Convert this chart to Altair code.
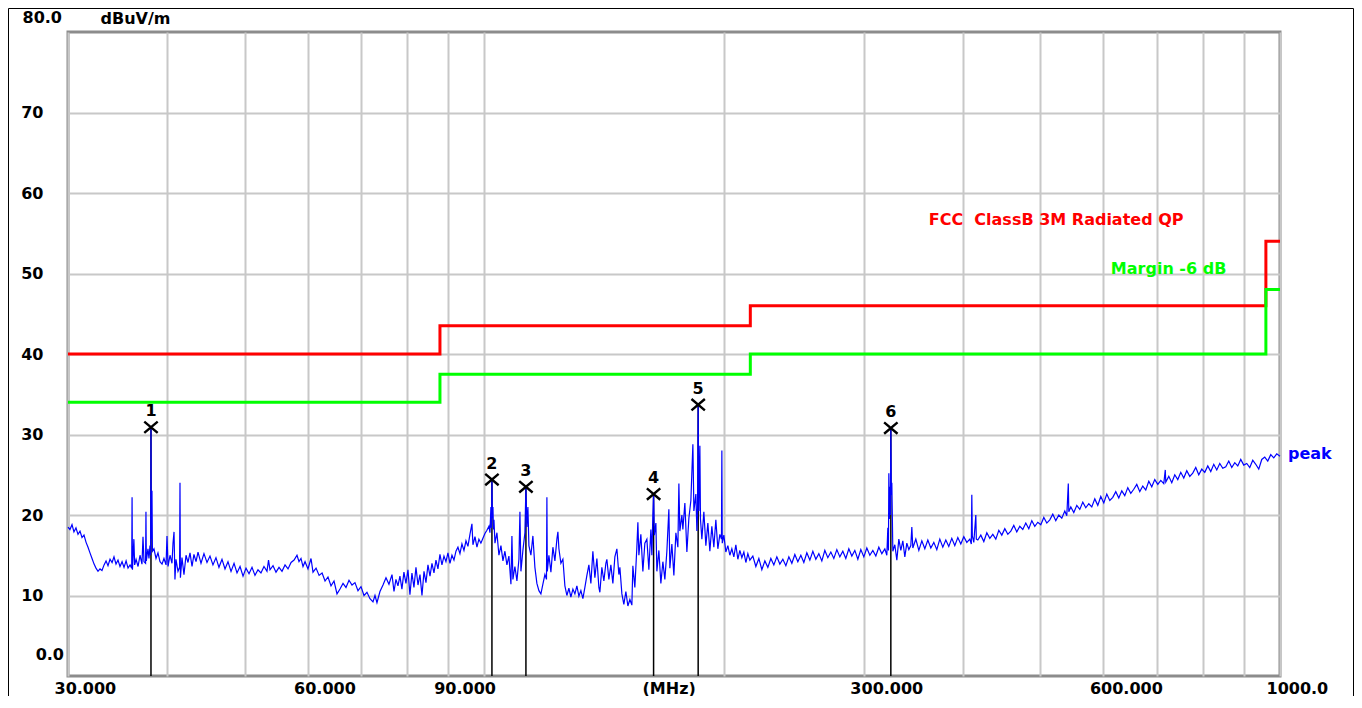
import altair as alt
import pandas as pd

# ---------------- data ----------------
# peak trace, 30 - 88 MHz
mhz_low = [30.00, 30.17, 30.35, 30.52, 30.70, 30.88, 31.06, 31.24, 31.42, 31.61,
           31.79, 31.97, 32.16, 32.35, 32.53, 32.72, 32.91, 33.10, 33.30, 33.49,
           33.68, 33.88, 34.08, 34.27, 34.47, 34.67, 34.87, 35.08, 35.28, 35.49,
           35.69, 35.90,
           36.07, 36.11, 36.15, 36.30, 36.38,
           36.53, 36.74, 36.95, 37.16, 37.27, 37.38, 37.55, 37.59, 37.63,
           37.81, 37.92, 38.03, 38.10, 38.14, 38.18, 38.25, 38.30,
           38.47, 38.70, 38.92, 39.15, 39.38, 39.60, 39.84, 39.95, 40.07,
           40.30, 40.53, 40.65, 40.77, 40.88, 41.00, 41.24, 41.43, 41.48, 41.53,
           41.72, 41.96, 42.21, 42.45, 42.70, 42.95, 43.19, 43.45, 43.70,
           44.08, 44.46, 44.85, 45.24, 45.63, 46.03, 46.43, 46.84, 47.25, 47.66,
           48.08, 48.50, 48.92, 49.35, 49.78, 50.21, 50.65, 51.09, 51.53, 51.98,
           52.43, 52.89, 53.35, 53.59, 53.82, 54.29, 54.76, 55.24, 55.72, 56.21,
           56.70, 57.20, 57.70, 58.19, 58.53, 58.87, 59.21, 59.56, 60.07, 60.60,
           60.95,
           61.49, 62.03, 62.57, 63.11, 63.65, 64.21, 64.77, 65.33, 65.90, 66.48,
           67.05, 67.64, 68.23, 68.82, 69.42, 70.03, 70.64, 71.25, 71.87, 72.50,
           72.92, 73.34, 73.98, 74.63, 75.28, 75.93, 76.60, 77.04, 77.48, 77.93,
           78.38, 78.83, 79.29, 79.75, 80.22, 80.68, 81.15, 81.62, 82.10, 82.58,
           83.06, 83.54, 84.03, 84.51, 85.00, 85.50, 85.99, 86.49, 86.99, 87.49]
dbuv_low = [18.5, 18.2, 18.8, 17.9, 18.4, 17.6, 18.0, 17.2, 17.5, 16.6,
            16.0, 15.3, 14.6, 13.9, 13.4, 13.0, 13.3, 13.1, 13.8, 14.3,
            13.7, 14.5, 14.1, 14.8, 13.9, 14.4, 13.6, 14.2, 13.5, 14.3,
            13.4, 13.8,
            13.4, 22.2, 13.2, 17.0, 13.8,
            14.5, 13.6, 15.0, 13.9, 17.3, 14.2, 14.0, 20.4, 14.3,
            15.8, 14.6, 16.2, 15.0, 30.9, 17.0, 23.0, 15.5,
            15.8, 14.6, 15.3, 14.2, 13.9, 14.6, 13.8, 17.4, 13.6,
            15.0, 14.0, 16.5, 17.9, 12.0, 14.5, 13.0, 13.5, 24.0, 12.2,
            14.7, 12.6, 15.0, 14.1, 15.3, 13.6, 15.1, 14.2, 15.4,
            14.0, 15.2, 14.1, 14.9, 13.8, 14.7, 13.5, 14.5, 13.3, 14.2,
            13.0, 14.0, 12.8, 13.6, 12.4, 13.4, 12.7, 13.5, 12.5, 13.2,
            12.8, 13.6, 13.0, 14.4, 13.2, 13.7, 12.9, 13.5, 13.0, 13.8,
            13.3, 14.1, 14.4, 15.0, 14.2, 14.6, 13.6, 14.2, 13.3, 14.6,
            12.9,
            13.4, 12.5, 12.8, 11.8, 12.3, 11.2, 11.8, 10.2, 10.8, 11.5,
            11.0, 11.9, 11.3, 11.6, 10.6, 11.1, 10.0, 10.4, 9.6, 9.2,
            10.0, 9.1, 10.5, 11.3, 12.2, 11.4, 12.6, 10.5, 12.0, 11.2,
            12.4, 10.8, 12.9, 11.5, 13.2, 10.1, 12.8, 11.0, 13.5, 11.3,
            12.6, 10.0, 13.0, 11.6, 13.8, 12.4, 14.0, 12.8, 14.4, 13.3]

# peak trace, 88 - 216 MHz
mhz_mid = [88.00, 88.51, 89.03, 89.54, 90.06, 90.58, 91.11, 91.64, 92.17, 92.70,
           93.24, 93.78, 94.33, 94.88, 95.42, 95.98, 96.53,
           96.81, 97.38, 97.94, 98.50, 99.07, 99.65, 100.23, 100.81, 101.40, 101.69,
           101.98, 102.13, 102.28, 102.43, 102.58, 102.73, 102.88,
           103.18, 103.77, 104.37, 104.98, 105.59, 106.20, 106.81, 107.43,
           108.06, 108.37, 108.68, 109.31, 109.95, 110.59, 110.91, 111.23, 111.87,
           112.52, 112.85, 113.17, 113.50, 113.83,
           114.49, 115.15, 115.82, 116.49, 117.17, 117.85, 118.53, 119.22,
           119.77, 119.91, 120.05,
           120.61, 121.31, 122.01, 122.72, 123.43, 123.79, 124.15, 124.87, 125.59,
           126.32, 127.05, 127.79, 128.53, 129.28, 130.03, 130.78, 131.54, 132.30, 133.07,
           133.84, 134.62, 135.40, 136.18, 136.97, 137.77, 138.57, 139.37, 139.77,
           140.58, 141.40, 142.22, 142.63, 143.46, 144.29, 145.13, 145.97, 146.82, 147.67, 148.10,
           148.96, 149.82, 150.69, 151.57, 152.45, 153.33,
           153.77, 154.66, 155.56, 156.02, 156.47, 157.37, 158.29, 159.20, 160.13, 161.06,
           161.99, 162.46, 162.93, 163.27, 163.65, 164.36, 164.83,
           165.79, 166.75, 167.72, 168.69, 169.67, 170.65, 171.15, 172.14, 173.14, 174.15,
           175.16, 175.67, 176.17,
           177.20, 177.71, 178.74, 179.78, 180.82, 181.87, 182.93, 183.46, 184.52, 185.06,
           185.38, 185.75, 186.13, 186.67, 186.99,
           187.75, 188.83, 189.93, 191.03, 192.14, 193.25, 194.37, 195.50, 196.64, 197.78,
           198.70, 198.93, 199.16,
           200.08, 201.24, 202.41, 203.58, 204.76, 205.95, 207.15, 208.35, 209.56, 210.77,
           212.00, 213.23, 214.47, 215.71]
dbuv_mid = [15.1, 13.8, 14.9, 14.2, 15.3, 14.0, 15.0, 14.4, 15.5, 16.0,
            15.2, 16.4, 15.6, 16.8, 16.1, 17.6, 18.9,
            16.3, 17.3, 16.0, 17.0, 16.5, 17.1, 17.7, 18.1, 18.6, 17.8,
            21.0, 18.4, 24.4, 19.6, 21.0, 18.2, 19.4,
            16.5, 17.8, 15.0, 16.2, 14.3, 15.5, 13.8, 14.9,
            11.4, 17.4, 12.0, 13.6, 11.8, 14.5, 20.4, 13.0, 15.6,
            17.8, 23.5, 18.5, 21.0, 16.2,
            15.0, 17.4, 13.5, 11.5, 10.6, 10.2, 11.4, 12.6,
            12.0, 22.2, 13.0,
            15.0, 12.9, 16.0, 14.3, 17.0, 17.9, 15.8, 14.0, 14.5,
            11.2, 10.0, 10.9, 9.8, 10.8, 10.2, 11.2, 9.9, 10.6, 9.6,
            11.0, 12.5, 13.8, 11.5, 15.5, 12.2, 14.6, 11.0, 10.4,
            13.5, 11.8, 14.0, 14.5, 12.0, 13.8, 11.5, 14.8, 15.8, 12.6, 13.5,
            10.2, 8.9, 10.5, 8.7, 9.5, 8.8,
            13.7, 11.0, 16.0, 19.1, 15.0, 17.6, 13.0, 16.5, 17.0, 13.2,
            18.2, 15.0, 20.0, 22.6, 17.5, 19.0, 13.0,
            15.6, 11.5, 14.2, 12.0, 15.5, 20.7, 13.4, 16.4, 12.5, 17.8,
            16.0, 23.9, 18.0,
            20.0, 18.2, 21.5, 15.4, 19.6, 21.8, 28.8, 20.5, 22.6, 18.0,
            20.0, 33.7, 20.5, 28.6, 19.5,
            17.0, 20.4, 16.2, 19.0, 15.5, 18.6, 16.0, 19.4, 15.8, 17.6,
            17.0, 28.0, 16.5,
            17.5, 15.4, 16.2, 15.0, 15.8, 14.8, 16.3, 14.5, 15.6, 14.7,
            15.4, 14.1, 15.2, 14.4]

# peak trace, 216 - 1000 MHz
mhz_high = [217.58, 219.49, 221.40, 223.33, 225.28, 227.24, 229.22, 231.21, 233.23, 235.27,
            237.32, 239.39, 241.48, 243.58, 245.70, 247.84, 250.00, 252.18, 254.38, 256.60,
            258.83, 261.09, 263.37, 265.66, 267.97, 270.31, 272.66, 275.04, 277.44, 279.86,
            282.29, 284.75, 287.24, 289.74, 292.26, 294.82, 297.38, 299.97, 302.59, 305.23,
            307.89, 310.57, 313.28, 316.01, 318.76, 320.62,
            321.55, 322.11, 322.48, 322.95, 323.42, 323.88, 324.35, 324.82, 325.29, 325.76, 326.23,
            328.12, 330.03, 331.94, 333.87, 335.80, 337.75, 339.71, 341.69, 343.67, 344.66, 345.66,
            348.67, 351.72, 354.78, 357.87, 360.99, 364.13, 367.30, 370.50, 373.73, 376.98,
            380.27, 383.57, 386.91, 390.28, 393.72, 397.14, 400.59, 404.10, 407.61,
            409.39, 409.98, 410.58, 412.36, 414.76, 415.36,
            417.17, 420.80, 424.47, 428.17, 431.90, 435.66, 439.46, 443.29, 447.14, 451.04,
            454.99, 458.95, 462.94, 466.98, 471.05, 475.14, 479.28, 483.48, 487.69, 491.93,
            496.23, 500.55, 504.91, 509.31, 513.75, 518.22, 522.74, 527.31, 531.90, 536.53,
            539.65, 542.00, 542.79,
            545.94, 550.70, 555.49, 560.33, 565.21, 570.13, 575.11, 580.12, 585.17, 590.28,
            595.42, 600.61, 605.85, 611.12, 616.44, 621.80, 627.25, 632.70, 638.21, 643.79,
            649.39, 655.04, 660.75, 666.54, 672.33, 678.19, 684.12, 690.07, 696.07, 702.16,
            708.28, 714.44, 717.55, 718.59,
            724.86, 731.17, 737.53, 743.97, 750.45, 756.98, 763.57, 770.24, 776.94, 783.71,
            790.56, 797.45, 804.40, 811.42, 818.48, 825.61, 832.81, 840.08, 847.40, 854.79,
            862.23, 869.75, 877.33, 884.98, 892.68, 900.47, 908.32, 916.23, 924.22, 932.27,
            940.39, 948.59, 956.85, 965.21, 973.62, 982.10, 990.66, 1000.0]
dbuv_high = [14.9, 13.6, 14.6, 13.2, 14.3, 13.5, 14.6, 13.8, 14.8, 13.9,
             14.5, 13.7, 14.8, 14.0, 15.1, 14.2, 15.0, 14.1, 15.3, 14.4,
             15.5, 14.5, 15.2, 14.3, 15.6, 14.7, 15.4, 14.6, 15.7, 14.8,
             15.5, 14.6, 15.8, 14.9, 15.6, 14.5, 15.7, 14.8, 15.9, 15.0,
             15.6, 14.9, 16.0, 15.2, 15.8, 15.0,
             18.4, 15.6, 25.2, 19.5, 23.5, 20.0, 30.8, 22.5, 24.0, 19.8, 15.5,
             16.3, 14.4, 17.0, 15.6, 16.8, 14.8, 16.5, 15.7, 16.2, 18.5, 15.9,
             17.0, 15.6, 16.8, 15.8, 16.9, 15.9, 16.6, 15.7, 17.0, 16.0,
             16.9, 16.1, 17.1, 16.2, 17.2, 16.4, 17.3, 16.6, 17.0,
             16.4, 22.5, 17.4, 16.6, 20.0, 17.0,
             16.9, 17.5, 16.7, 17.8, 17.1, 17.6, 17.0, 18.1, 17.5, 18.3,
             17.6, 18.0, 18.7, 17.9, 18.6, 18.2, 19.0, 18.3, 19.3, 18.6,
             19.1, 18.8, 19.7, 19.0, 19.4, 20.1, 19.3, 20.0, 19.6, 20.5,
             19.9, 23.9, 20.4,
             21.0, 20.3, 21.2, 20.7, 21.6, 20.9, 21.4, 21.0, 22.0, 21.2,
             22.3, 21.5, 22.6, 21.8, 22.2, 22.9, 22.1, 23.0, 22.4, 23.4,
             22.7, 23.2, 23.8, 22.9, 23.6, 23.1, 24.2, 23.5, 24.4, 23.8,
             24.3, 23.9, 25.6, 24.1,
             24.8, 24.0, 25.0, 24.4, 25.3, 24.6, 25.5, 24.8, 25.2, 25.9,
             25.0, 25.7, 25.3, 26.1, 25.4, 26.3, 25.6, 26.4, 25.8, 26.0,
             26.7, 25.9, 26.5, 26.1, 26.9, 26.2, 26.4, 25.9, 26.8, 26.3,
             25.7, 26.9, 27.2, 26.7, 27.5, 27.1, 27.6, 27.3]

# FCC Class B 3 m QP limit and the -6 dB margin line (step after each frequency)
limit_mhz = [30, 88, 216, 960, 1000]
limit_qp = [40.0, 43.5, 46.0, 54.0, 54.0]
limit_margin = [34.0, 37.5, 40.0, 48.0, 48.0]

# markers
marker_no = ["1", "2", "3", "4", "5", "6"]
marker_mhz = [38.14, 102.28, 112.85, 163.27, 185.75, 324.35]
marker_dbuv = [30.9, 24.4, 23.5, 22.6, 33.7, 30.8]

# axes
x_grid_mhz = [30, 40, 50, 60, 70, 80, 90, 100, 200, 300, 400, 500, 600, 700, 800, 900, 1000]
x_label_mhz = [30, 60, 90, 300, 600, 1000]
x_label_text = ["30.000", "60.000", "90.000", "300.000", "600.000", "1000.0"]
y_label_db = [10, 20, 30, 40, 50, 60, 70]

assert len(mhz_low) == len(dbuv_low)
assert len(mhz_mid) == len(dbuv_mid)
assert len(mhz_high) == len(dbuv_high)

trace_df = pd.DataFrame({"mhz": mhz_low + mhz_mid + mhz_high,
                         "dbuv": dbuv_low + dbuv_mid + dbuv_high})
limit_df = pd.DataFrame({"mhz": limit_mhz, "qp": limit_qp, "margin": limit_margin})
marker_df = pd.DataFrame({"no": marker_no, "mhz": marker_mhz, "dbuv": marker_dbuv})

# ---------------- chart ----------------
FONT = "DejaVu Sans"
FS = 16
GRID = "#c8c8c8"

xs = alt.Scale(type="log", domain=[30, 1000], nice=False)
ys = alt.Scale(domain=[0, 80], nice=False, zero=False)

label_expr = "".join(
    f"datum.value == {v} ? '{t}' : " for v, t in zip(x_label_mhz, x_label_text)
) + "''"

x_axis = alt.Axis(
    values=x_grid_mhz, grid=True, gridColor=GRID, gridWidth=2, gridOpacity=1,
    ticks=False, tickSize=0, domain=False,
    labelExpr=label_expr, labelAlign="left", labelBaseline="middle",
    labelOffset=-14, labelPadding=12, labelFlush=False, labelOverlap=False,
    labelBound=False, labelFont=FONT, labelFontSize=FS, labelFontWeight="bold",
    labelColor="black",
    title="(MHz)", titleX=574, titleY=12, titleAlign="left", titleBaseline="middle",
    titleFont=FONT, titleFontSize=FS, titleFontWeight="bold", titleColor="black",
)
y_axis = alt.Axis(
    values=y_label_db, format="d", grid=True, gridColor=GRID, gridWidth=2,
    gridOpacity=1, ticks=False, tickSize=0, domain=False,
    labelAlign="right", labelBaseline="middle", labelPadding=25,
    labelFont=FONT, labelFontSize=FS, labelFontWeight="bold", labelColor="black",
    title="dBuV/m", titleAngle=0, titleX=32, titleY=-14, titleAlign="left",
    titleBaseline="middle", titleFont=FONT, titleFontSize=FS,
    titleFontWeight="bold", titleColor="black",
)


def X(field):
    return alt.X(field, type="quantitative", scale=xs, axis=x_axis)


def Y(field):
    return alt.Y(field, type="quantitative", scale=ys, axis=y_axis)


qp_line = alt.Chart(limit_df).mark_line(
    interpolate="step-after", color="#ff0000", strokeWidth=3
).encode(x=X("mhz"), y=Y("qp"))

margin_line = alt.Chart(limit_df).mark_line(
    interpolate="step-after", color="#00ff00", strokeWidth=3
).encode(x=X("mhz"), y=Y("margin"))

marker_rules = alt.Chart(marker_df).mark_rule(color="black", strokeWidth=1.5).encode(
    x=X("mhz"), y=Y("dbuv"), y2=alt.datum(0),
)

trace = alt.Chart(trace_df).mark_line(color="#0000ff", strokeWidth=1.2).encode(
    x=X("mhz"), y=Y("dbuv"),
)

marker_x = alt.Chart(marker_df).mark_point(
    shape="M-1,-0.85L1,0.85M-1,0.85L1,-0.85", size=180, filled=False,
    stroke="black", strokeWidth=2.4, opacity=1,
).encode(x=X("mhz"), y=Y("dbuv"))

marker_txt = alt.Chart(marker_df).mark_text(
    dy=-16, font=FONT, fontSize=FS, fontWeight="bold", color="black",
    baseline="middle", align="center",
).encode(x=X("mhz"), y=Y("dbuv"), text="no:N")


def note(text, mhz, db, color, dx=0, dy=0, align="left"):
    df = pd.DataFrame({"t": [text], "mhz": [mhz], "dbuv": [db]})
    return alt.Chart(df).mark_text(
        align=align, baseline="middle", dx=dx, dy=dy, font=FONT, fontSize=FS,
        fontWeight="bold", color=color,
    ).encode(x=X("mhz"), y=Y("dbuv"), text="t:N")


def ylab(text, db, px, dy):
    df = pd.DataFrame({"t": [text], "dbuv": [db]})
    return alt.Chart(df).mark_text(
        align="right", baseline="middle", dy=dy, font=FONT, fontSize=FS,
        fontWeight="bold", color="black",
    ).encode(x=alt.value(px), y=Y("dbuv"), text="t:N")


fcc_txt = note("FCC\u00a0 ClassB 3M Radiated QP", 362, 56.7, "#ff0000")
margin_txt = note("Margin -6 dB", 613, 50.6, "#00ff00")
peak_txt = note("peak", 1000, 27.6, "#0000ff", dx=8)
y80 = ylab("80.0", 80, -6, -14)
y0 = ylab("0.0", 0, -4, -21)

one = pd.DataFrame({"k": [0]})
border_left = alt.Chart(one).mark_rule(color="black", strokeWidth=1).encode(
    x=alt.value(-59.5), y=alt.value(-23.5), y2=alt.value(664))
border_top = alt.Chart(one).mark_rule(color="black", strokeWidth=1).encode(
    y=alt.value(-23.5), x=alt.value(-59.5), x2=alt.value(1285.5))
border_right = alt.Chart(one).mark_rule(color="black", strokeWidth=1).encode(
    x=alt.value(1285.5), y=alt.value(-23.5), y2=alt.value(664))

chart = alt.layer(
    qp_line, margin_line, marker_rules, trace, marker_x, marker_txt,
    fcc_txt, margin_txt, peak_txt, y80, y0,
    border_left, border_top, border_right,
).properties(
    width=1212, height=644,
    padding={"left": 60, "top": 24, "right": 74, "bottom": 20},
    autosize=alt.AutoSizeParams(type="none"),
    background="white",
).configure_view(stroke="#8c8c8c", strokeWidth=3)

chart.save("out.html", embed_options={"renderer": "svg", "actions": False})
